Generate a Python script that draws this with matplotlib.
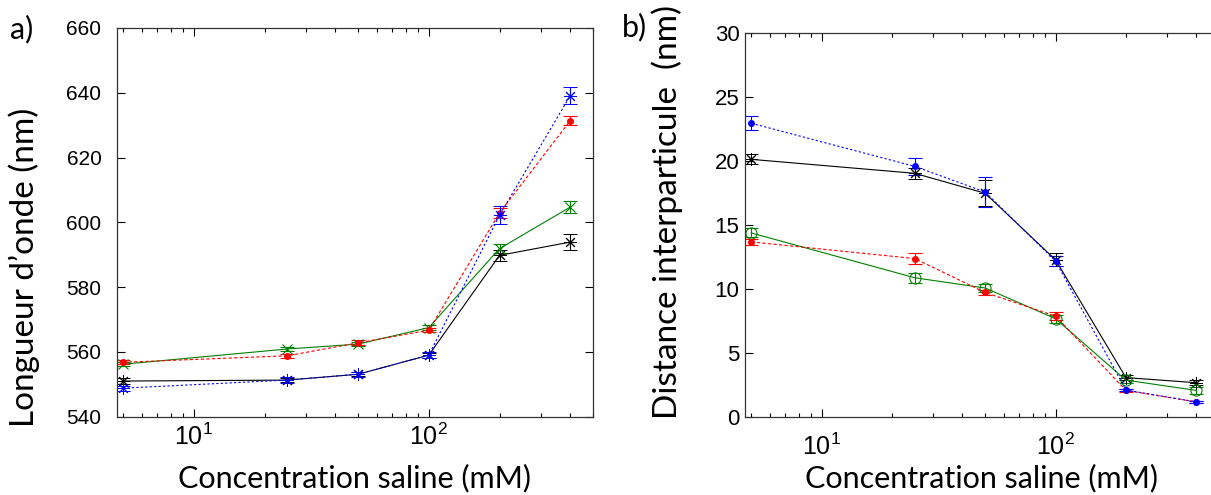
import numpy as np
import matplotlib.pyplot as plt
from matplotlib.ticker import FixedLocator, LogLocator, NullFormatter

conc = [5, 25, 50, 100, 200, 400]

# a) longueur d'onde (nm)
lam_noir = [551.0, 551.3, 553.1, 559.0, 589.8, 593.9]
lam_noir_err = [0.8, 0.6, 0.6, 0.8, 1.8, 2.5]
lam_bleu = [548.8, 551.3, 553.1, 559.0, 602.2, 639.1]
lam_bleu_err = [0.8, 0.8, 0.8, 0.9, 2.8, 2.7]
lam_rouge = [556.8, 558.8, 562.8, 566.7, 602.9, 631.4]
lam_rouge_err = [0.6, 0.7, 0.8, 0.6, 1.5, 1.4]
lam_vert = [556.2, 560.9, 562.4, 567.5, 591.9, 604.7]
lam_vert_err = [0.7, 0.7, 0.6, 0.7, 1.4, 1.9]

# b) distance interparticule (nm)
d_bleu = [22.97, 19.6, 17.6, 12.2, 2.13, 1.2]
d_bleu_err = [0.55, 0.65, 1.2, 0.4, 0.1, 0.1]
d_noir = [20.15, 19.06, 17.5, 12.3, 3.1, 2.7]
d_noir_err = [0.4, 0.45, 1.0, 0.5, 0.2, 0.2]
d_vert = [14.4, 10.9, 10.1, 7.7, 2.9, 2.1]
d_vert_err = [0.35, 0.4, 0.3, 0.3, 0.2, 0.25]
d_rouge = [13.7, 12.4, 9.75, 7.9, 2.1, 1.2]
d_rouge_err = [0.25, 0.4, 0.2, 0.3, 0.1, 0.1]

tick_font = 'Liberation Sans'
label_font = 'Lato'
xlab_size = 22
ylab_size = 24
asterisk = (8, 2, 0)

fig = plt.figure(figsize=(12.11, 4.95), dpi=100)
ax1 = fig.add_axes([0.0964, 0.1582, 0.3933, 0.7853])
ax2 = fig.add_axes([0.6152, 0.157, 0.3914, 0.7758])

eb = dict(capsize=5, elinewidth=0.8, capthick=0.8, lw=0.8)

ax1.errorbar(conc, lam_noir, yerr=lam_noir_err, color='k', ls='-', marker=asterisk, ms=9, mew=0.7, **eb)
ax1.errorbar(conc, lam_vert, yerr=lam_vert_err, color=(0, 0.5, 0), ls='-', marker='x', ms=7, mew=0.8, **eb)
ax1.errorbar(conc, lam_rouge, yerr=lam_rouge_err, color='r', ls=(0, (3, 2)), marker='.', ms=8, **eb)
ax1.errorbar(conc, lam_bleu, yerr=lam_bleu_err, color='b', ls=(0, (2, 2)), marker=asterisk, ms=9, mew=0.7, **eb)

ax2.errorbar(conc, d_noir, yerr=d_noir_err, color='k', ls='-', marker=asterisk, ms=9, mew=0.7, **eb)
ax2.errorbar(conc, d_vert, yerr=d_vert_err, color=(0, 0.5, 0), ls='-', marker='o', ms=8, mfc='none', mew=0.8, **eb)
ax2.errorbar(conc, d_rouge, yerr=d_rouge_err, color='r', ls=(0, (3, 2)), marker='.', ms=8, **eb)
ax2.errorbar(conc, d_bleu, yerr=d_bleu_err, color='b', ls=(0, (2, 2)), marker='.', ms=8, **eb)

for ax in (ax1, ax2):
    ax.set_xscale('log')
    ax.set_xlim(4.7, 500)
    ax.xaxis.set_major_locator(FixedLocator([10, 100]))
    ax.set_xticklabels([r'$\mathregular{10^{1}}$', r'$\mathregular{10^{2}}$'], fontfamily=tick_font, fontsize=18)
    ax.xaxis.set_minor_locator(LogLocator(base=10, subs=np.arange(2, 10), numticks=20))
    ax.xaxis.set_minor_formatter(NullFormatter())
    ax.tick_params(which='both', direction='in', top=True, right=True, width=0.8)
    ax.tick_params(which='major', length=6)
    ax.tick_params(which='minor', length=3)
    for s in ax.spines.values():
        s.set_linewidth(0.9)
        s.set_color('#333333')
    ax.set_xlabel('Concentration saline (mM)', fontfamily=label_font, fontsize=xlab_size)

ax1.set_ylim(540, 660)
ax1.set_yticks(np.arange(540, 661, 20))
ax1.set_yticklabels([str(v) for v in range(540, 661, 20)], fontfamily=tick_font, fontsize=15)
ax1.tick_params(axis='y', pad=11)
ax1.tick_params(axis='x', pad=5)
ax1.set_ylabel('Longueur d\u2019onde (nm)', fontfamily=label_font, fontsize=ylab_size)
ax1.yaxis.set_label_coords(-0.162, 0.385)
ax1.xaxis.set_label_coords(0.5, -0.12)

ax2.set_ylim(0, 30)
ax2.set_yticks(np.arange(0, 31, 5))
ax2.set_yticklabels([str(v) for v in range(0, 31, 5)], fontfamily=tick_font, fontsize=16)
ax2.tick_params(axis='y', pad=4)
ax2.tick_params(axis='x', pad=12)
ax2.set_ylabel('Distance interparticule  (nm)', fontfamily=label_font, fontsize=ylab_size)
ax2.yaxis.set_label_coords(-0.131, 0.535)
ax2.xaxis.set_label_coords(0.5, -0.122)

fig.text(22 / 1211, 1 - 29 / 495, 'a)', fontfamily=label_font, fontsize=xlab_size, ha='center', va='center')
fig.text(634 / 1211, 1 - 27 / 495, 'b)', fontfamily=label_font, fontsize=xlab_size, ha='center', va='center')

fig.savefig('out.png', dpi=100)
